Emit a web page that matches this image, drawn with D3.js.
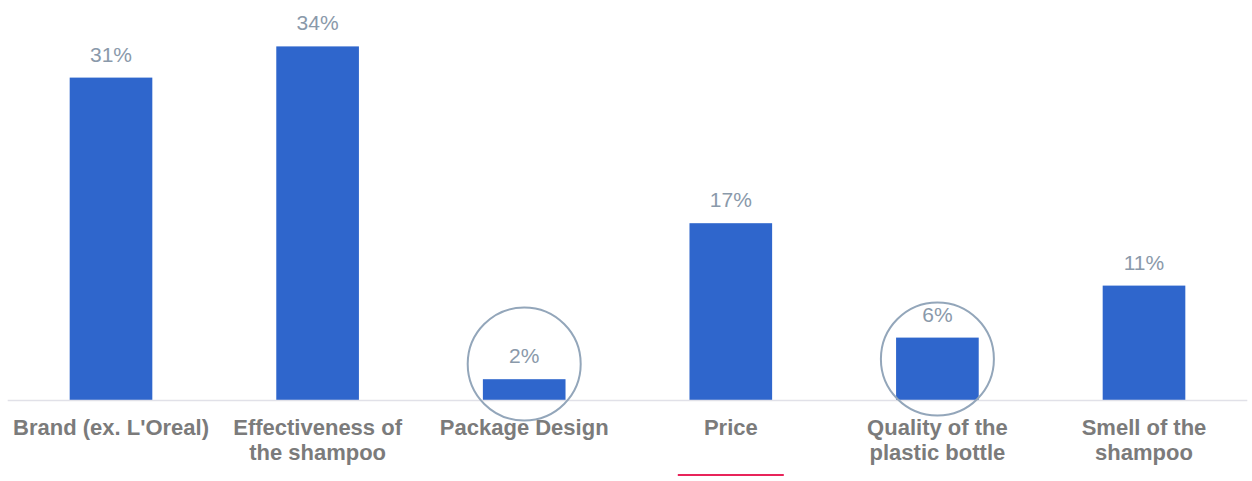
<!DOCTYPE html>
<html>
<head>
<meta charset="utf-8">
<script src="https://cdn.jsdelivr.net/npm/d3@7/dist/d3.min.js"></script>
<style>
  html, body { margin: 0; padding: 0; background: #ffffff; }
  svg { display: block; }
</style>
</head>
<body>
<svg id="chart" width="1252" height="481"></svg>
<script>
// Purchase drivers (share of respondents, %)
const categories = [
  "Brand (ex. L'Oreal)",
  "Effectiveness of the shampoo",
  "Package Design",
  "Price",
  "Quality of the plastic bottle",
  "Smell of the shampoo"
];
const values = [31, 34, 2, 17, 6, 11];
// Axis label lines for each category
const labelLines = [
  ["Brand (ex. L'Oreal)"],
  ["Effectiveness of", "the shampoo"],
  ["Package Design"],
  ["Price"],
  ["Quality of the", "plastic bottle"],
  ["Smell of the", "shampoo"]
];
// Categories called out with a ring, and the one underlined
const circled = ["Package Design", "Quality of the plastic bottle"];
const underlined = ["Price"];

const svg = d3.select("#chart");
const baseY = 400;

const x = d3.scaleBand()
  .domain(categories)
  .range([7.7, 1247.3])
  .paddingInner(0.6)
  .paddingOuter(0.3);

const y = d3.scaleLinear()
  .domain([0, 35])
  .range([baseY, baseY - 35 * 10.4]);

const font = "'Liberation Sans', Arial, sans-serif";

// Bars
svg.append("g").selectAll("rect")
  .data(categories)
  .join("rect")
  .attr("x", d => x(d))
  .attr("width", x.bandwidth())
  .attr("y", (d, i) => y(values[i]))
  .attr("height", (d, i) => y(0) - y(values[i]))
  .attr("fill", "#2f66cc");

// Baseline
svg.append("line")
  .attr("x1", x.range()[0]).attr("x2", x.range()[1])
  .attr("y1", y(0) + 0.5).attr("y2", y(0) + 0.5)
  .attr("stroke", "#e1e1e8")
  .attr("stroke-width", 1.6);

// Value labels
svg.append("g").selectAll("text")
  .data(categories)
  .join("text")
  .attr("x", d => x(d) + x.bandwidth() / 2)
  .attr("y", (d, i) => y(values[i]) - 16)
  .attr("text-anchor", "middle")
  .attr("font-family", font)
  .attr("font-size", 21)
  .attr("fill", "#8a99aa")
  .text((d, i) => values[i] + "%");

// Category labels via bottom axis (ticks hidden, multi-line text)
const axis = svg.append("g")
  .attr("transform", `translate(0,${baseY})`)
  .call(d3.axisBottom(x).tickSize(0).tickPadding(0));
axis.select(".domain").remove();
axis.selectAll(".tick text").remove();
axis.selectAll(".tick").each(function(d) {
  const i = categories.indexOf(d);
  const t = d3.select(this).append("text")
    .attr("text-anchor", "middle")
    .attr("font-family", font)
    .attr("font-weight", "bold")
    .attr("font-size", 22)
    .attr("fill", "#7b7b7b");
  labelLines[i].forEach((line, k) => {
    t.append("tspan")
      .attr("x", 0)
      .attr("y", 35 + k * 25)
      .text(line);
  });
});

// Highlight rings, centred a little above the baseline
const ringLift = [36, 41];
svg.append("g").selectAll("circle")
  .data(circled)
  .join("circle")
  .attr("cx", d => x(d) + x.bandwidth() / 2)
  .attr("cy", (d, i) => y(0) - ringLift[i])
  .attr("r", 56.5)
  .attr("fill", "none")
  .attr("stroke", "#93a6ba")
  .attr("stroke-width", 2);

// Underline marker
svg.append("g").selectAll("line")
  .data(underlined)
  .join("line")
  .attr("x1", d => x(d) + x.bandwidth() / 2 - 53)
  .attr("x2", d => x(d) + x.bandwidth() / 2 + 53)
  .attr("y1", 475).attr("y2", 475)
  .attr("stroke", "#e8245a")
  .attr("stroke-width", 2);
</script>
</body>
</html>
